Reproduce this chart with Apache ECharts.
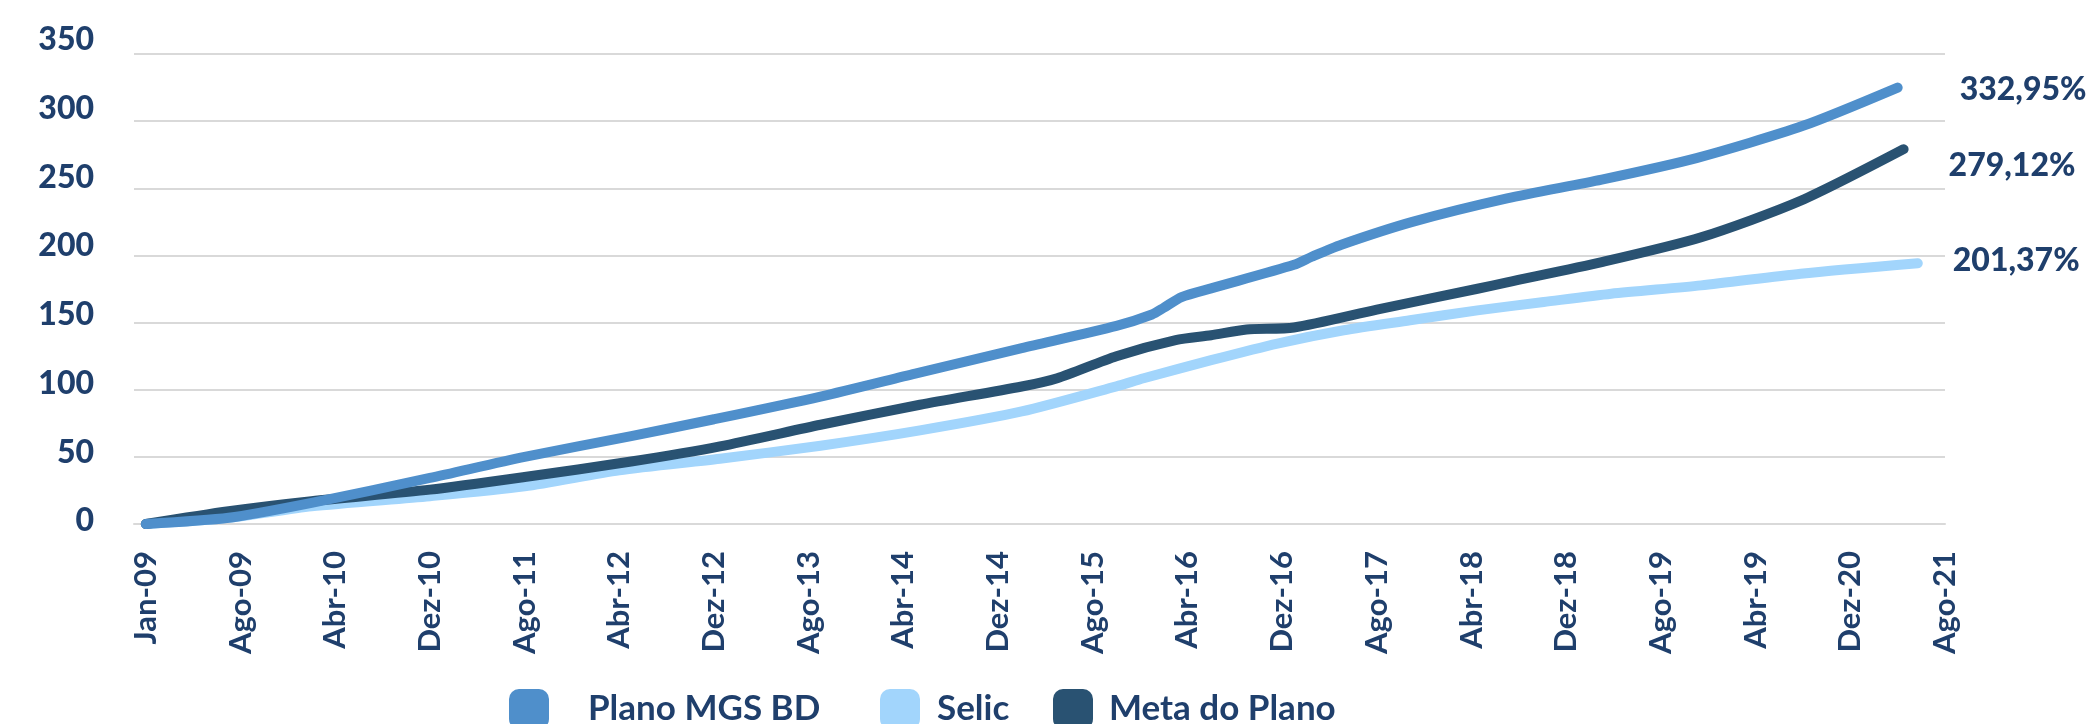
<!DOCTYPE html>
<html>
<head>
<meta charset="utf-8">
<script src="https://cdn.jsdelivr.net/npm/echarts@6/dist/echarts.min.js"></script>
<style>
  html, body { margin: 0; padding: 0; background: #fff; }
  #chart { width: 2091px; height: 724px; }
</style>
</head>
<body>
<div id="chart"></div>
<script>
// x positions are months counted from Jan-09
let tickLabels = ['Jan-09', 'Ago-09', 'Abr-10', 'Dez-10', 'Ago-11', 'Abr-12', 'Dez-12', 'Ago-13',
    'Abr-14', 'Dez-14', 'Ago-15', 'Abr-16', 'Dez-16', 'Ago-17', 'Abr-18', 'Dez-18',
    'Ago-19', 'Abr-19', 'Dez-20', 'Ago-21'];
let tickMonths = [0, 8, 16, 24, 32, 40, 48, 56, 64, 72, 80, 88, 96, 104, 112, 120, 128, 136, 144, 152];

let planoMonths = [0, 7, 14, 24, 32, 41, 48, 57, 65, 74, 82, 85, 86, 87.5, 90, 97, 98.5, 101, 107, 115, 123, 131, 140, 148];
let planoValues = [0, 4.6, 15.7, 34.3, 50, 65.5, 78, 94.9, 112, 131, 147.5, 156, 161, 169, 175.5, 193, 199, 208, 225, 242.5, 256.5, 272.5, 296.5, 325];

let selicMonths = [0, 7, 14, 24, 32, 40, 48.5, 57, 65.4, 74, 82, 84.3, 90, 95.6, 101.2, 106.8, 112.5, 118.1, 123.8, 131.4, 139.8, 149.7];
let selicValues = [0, 4.6, 13.2, 20.7, 28, 40, 48.6, 58.3, 69.7, 83.8, 102.5, 108.5, 122, 134.4, 144.3, 151.7, 159.1, 165.3, 171.5, 177.7, 186.4, 194.2];

let metaMonths = [0, 7, 14, 24, 32, 41, 48.5, 57, 65.4, 74, 77, 82, 87, 90, 93, 97, 104, 112.5, 115, 123, 131.4, 139.8, 148.5];
let metaValues = [0, 9.5, 17, 25.6, 35, 46.5, 57.8, 73.9, 88.8, 102.4, 108.6, 125, 137, 140.6, 144.8, 146.3, 159.6, 175.2, 180, 195, 213.5, 240.7, 279.12];

let endLabels = { plano: '332,95%', selic: '201,37%', meta: '279,12%' };

let textColor = '#1f3f6c';
let fontFamily = 'Lato';

function pairs(months, values) {
    return months.map((m, i) => [m, values[i]]);
}

function lineSeries(name, color, months, values, label, offset) {
    return {
        name: name,
        type: 'line',
        xAxisIndex: 0,
        yAxisIndex: 0,
        data: pairs(months, values),
        symbol: 'none',
        smooth: 0.25,
        color: color,
        lineStyle: { width: 10, color: color, cap: 'round', join: 'round' },
        endLabel: {
            show: true,
            formatter: label,
            distance: 0,
            offset: offset,
            color: textColor,
            fontFamily: fontFamily,
            fontWeight: 900,
            fontSize: 32
        },
        emphasis: { disabled: true },
        animation: false
    };
}

// one legend per entry, the gaps in the reference are uneven
function legendItem(name, left, textGap) {
    return {
        top: 689,
        left: left,
        padding: 0,
        itemWidth: 40,
        itemHeight: 40,
        icon: 'roundRect',
        selectedMode: false,
        data: [name],
        textStyle: {
            color: textColor,
            fontFamily: fontFamily,
            fontWeight: 'bold',
            fontSize: 35,
            padding: [0, 0, 0, textGap]
        }
    };
}

let chart = echarts.init(document.getElementById('chart'));

let conf = {
    backgroundColor: '#fff',
    animation: false,
    grid: [
        { left: 134, right: 146, top: 54, bottom: 200 },
        // labels of the y axis sit on a slightly wider scale than the gridlines
        { left: 134, right: 146, top: 40, bottom: 203 }
    ],
    legend: [
        legendItem('Plano MGS BD', 509, 34),
        legendItem('Selic', 880, 12),
        legendItem('Meta do Plano', 1053, 11)
    ],
    xAxis: [
        {
            type: 'value',
            gridIndex: 0,
            min: -1,
            max: 152,
            splitLine: { show: false },
            axisTick: { show: false },
            axisLine: { show: true, lineStyle: { color: '#d9d9d9', width: 2 } },
            axisLabel: {
                customValues: tickMonths,
                formatter: v => tickLabels[tickMonths.indexOf(v)],
                rotate: 90,
                margin: 27,
                color: textColor,
                fontFamily: fontFamily,
                fontWeight: 'bold',
                fontSize: 31
            }
        },
        { type: 'value', gridIndex: 1, min: -1, max: 152, show: false }
    ],
    yAxis: [
        {
            type: 'value',
            gridIndex: 0,
            min: 0,
            max: 350,
            interval: 50,
            axisLabel: { show: false },
            axisTick: { show: false },
            axisLine: { show: false },
            splitLine: { lineStyle: { color: '#d9d9d9', width: 2 } }
        },
        {
            type: 'value',
            gridIndex: 1,
            min: 0,
            max: 350,
            interval: 50,
            axisTick: { show: false },
            axisLine: { show: false },
            splitLine: { show: false },
            axisLabel: {
                margin: 40,
                color: textColor,
                fontFamily: fontFamily,
                fontWeight: 900,
                fontSize: 32
            }
        }
    ],
    series: [
        lineSeries('Selic', '#a2d5fc', selicMonths, selicValues, endLabels.selic, [35, -3]),
        lineSeries('Meta do Plano', '#295272', metaMonths, metaValues, endLabels.meta, [45, 17]),
        lineSeries('Plano MGS BD', '#4f8fcb', planoMonths, planoValues, endLabels.plano, [62, 2])
    ]
};

chart.setOption(conf);
</script>
</body>
</html>
